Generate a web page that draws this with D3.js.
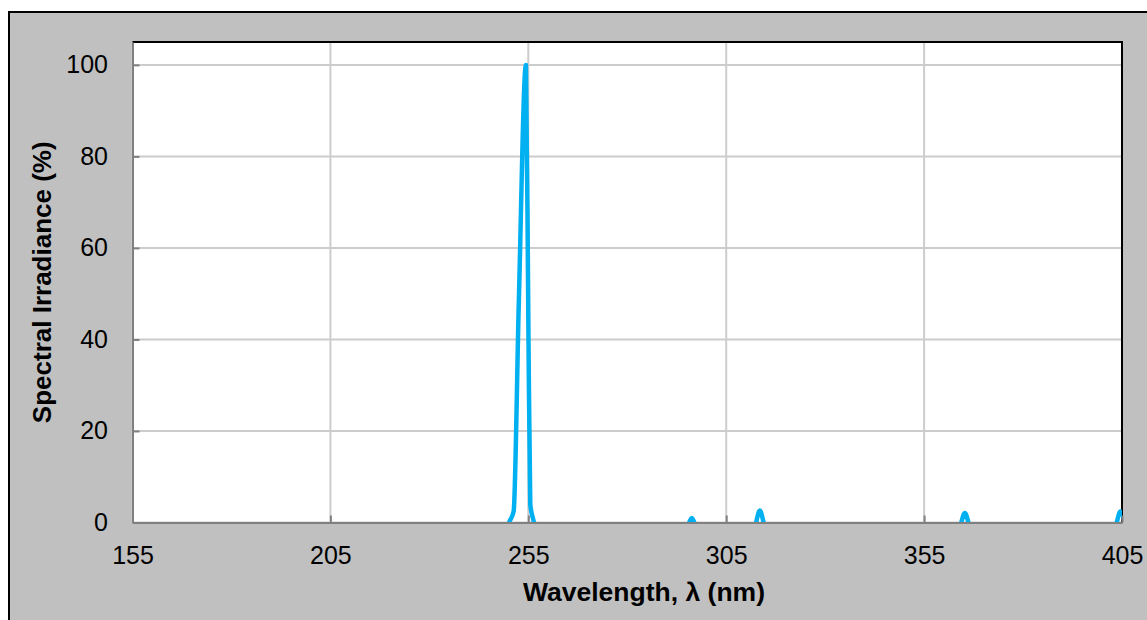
<!DOCTYPE html>
<html>
<head>
<meta charset="utf-8">
<script src="https://cdn.jsdelivr.net/npm/d3@7"></script>
<style>
  html, body { margin: 0; padding: 0; background: #fff; }
  svg { display: block; font-family: 'Liberation Sans', Arial, sans-serif; }
</style>
</head>
<body>
<div id="chart"></div>
<script>
// wavelength (nm) and relative spectral irradiance (%)
const wavelength = [155, 248.5, 250.3, 251.3, 252.6, 254.4, 255.0, 255.5, 256.3, 258,
  294.8, 296.3, 297.8,
  311.9, 313.5, 315.1,
  363.7, 365.3, 366.9,
  403.0, 404.6, 405.0, 406.0];
const irradiance = [-2.5, -2.5, 0.3, 2.5, 48, 100, 45, 4, 0.5, -2.5,
  -1.5, 1.0, -1.5,
  -1.5, 2.6, -1.5,
  -1.5, 2.1, -1.5,
  -1.5, 2.4, 2.0, -1.5];
const xTicks = [155, 205, 255, 305, 355, 405];
const yTicks = [0, 20, 40, 60, 80, 100];

const W = 1147, H = 620;
const pLeft = 132.5, pRight = 1122, pTop = 42, pBottom = 522.5;

const svg = d3.select('#chart')
  .append('svg')
  .attr('width', W)
  .attr('height', H);

// chart area
svg.append('rect')
  .attr('x', 9).attr('y', 12)
  .attr('width', W + 10).attr('height', H + 10)
  .attr('fill', '#c0c0c0')
  .attr('stroke', '#000')
  .attr('stroke-width', 2);

const x = d3.scaleLinear().domain([155, 405]).range([pLeft, pRight]);
const y = d3.scaleLinear().domain([0, 105]).range([pBottom, pTop]);

// plot area
svg.append('rect')
  .attr('x', pLeft).attr('y', pTop)
  .attr('width', pRight - pLeft).attr('height', pBottom - pTop)
  .attr('fill', '#fff');

const grid = svg.append('g')
  .attr('stroke', '#cccccc')
  .attr('stroke-width', 2);
grid.selectAll('.gx')
  .data(xTicks)
  .join('line')
  .attr('class', 'gx')
  .attr('x1', d => x(d)).attr('x2', d => x(d))
  .attr('y1', pTop).attr('y2', pBottom);
grid.selectAll('.gy')
  .data(yTicks)
  .join('line')
  .attr('class', 'gy')
  .attr('x1', pLeft).attr('x2', pRight)
  .attr('y1', d => y(d)).attr('y2', d => y(d));

// top and right border
svg.append('path')
  .attr('d', `M${pLeft},${pTop}H${pRight}V${pBottom}`)
  .attr('fill', 'none')
  .attr('stroke', '#000')
  .attr('stroke-width', 2);

svg.append('clipPath')
  .attr('id', 'plotclip')
  .append('rect')
  .attr('x', pLeft).attr('y', pTop)
  .attr('width', pRight - pLeft).attr('height', pBottom - pTop);

const pts = wavelength.map((w, i) => [w, irradiance[i]]);
svg.append('path')
  .datum(pts)
  .attr('clip-path', 'url(#plotclip)')
  .attr('fill', 'none')
  .attr('stroke', '#00b0f0')
  .attr('stroke-width', 4.5)
  .attr('stroke-linejoin', 'round')
  .attr('d', d3.line()
    .x(d => x(d[0]))
    .y(d => y(d[1]))
    .curve(d3.curveMonotoneX));

function styleAxis(g) {
  g.selectAll('.domain').attr('stroke', '#808080').attr('stroke-width', 2);
  g.selectAll('.tick line').attr('stroke', '#808080').attr('stroke-width', 2);
  g.selectAll('.tick text')
    .attr('fill', '#000')
    .attr('font-size', 25)
    .attr('font-family', "'Liberation Sans', Arial, sans-serif");
}

svg.append('g')
  .attr('transform', `translate(0,${pBottom})`)
  .call(d3.axisBottom(x).tickValues(xTicks).tickFormat(d3.format('d'))
    .tickSizeInner(-7).tickSizeOuter(0).tickPadding(24))
  .call(styleAxis);

svg.append('g')
  .attr('transform', `translate(${pLeft},0)`)
  .call(d3.axisLeft(y).tickValues(yTicks).tickFormat(d3.format('d'))
    .tickSizeInner(-7).tickSizeOuter(0).tickPadding(24.5))
  .call(styleAxis);

svg.append('text')
  .attr('x', 644).attr('y', 601)
  .attr('text-anchor', 'middle')
  .attr('font-size', 26.5)
  .attr('font-weight', 'bold')
  .text('Wavelength, λ (nm)');

svg.append('text')
  .attr('transform', `translate(51,${(pTop + pBottom) / 2}) rotate(-90)`)
  .attr('text-anchor', 'middle')
  .attr('font-size', 26)
  .attr('font-weight', 'bold')
  .text('Spectral Irradiance (%)');
</script>
</body>
</html>
